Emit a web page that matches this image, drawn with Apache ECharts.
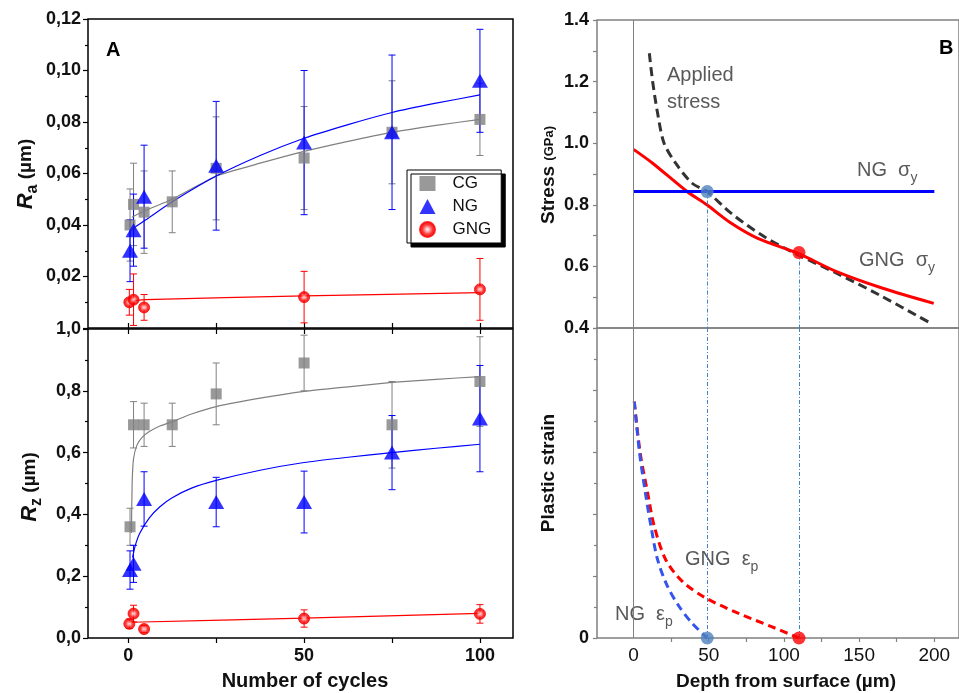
<!DOCTYPE html>
<html>
<head>
<meta charset="utf-8">
<script src="https://cdn.jsdelivr.net/npm/echarts@6/dist/echarts.min.js"></script>
<style>html,body{margin:0;padding:0;background:#fff}#main{width:959px;height:693px}</style>
</head>
<body>
<div id="main"></div>
<script>
// panel A: [cycles, value, error]
var raCG  = [[0.5,0.040,0.014],[1.5,0.048,0.016],[4.5,0.045,0.016],[12.5,0.049,0.012],[25,0.062,0.020],[50,0.066,0.020],[75,0.076,0.020],[100,0.081,0.014]];
var raNG  = [[0.5,0.030,0.012],[1.5,0.038,0.014],[4.5,0.051,0.020],[25,0.063,0.025],[50,0.072,0.028],[75,0.076,0.030],[100,0.096,0.020]];
var raGNG = [[0.3,0.010,0.005],[1.5,0.011,0.010],[4.5,0.008,0.005],[50,0.012,0.010],[100,0.015,0.012]];
var rzCG  = [[0.5,0.36,0.06],[1.5,0.69,0.075],[4.5,0.69,0.07],[12.5,0.69,0.07],[25,0.79,0.10],[50,0.89,0.09],[75,0.69,0.14],[100,0.83,0.145]];
var rzNG  = [[0.5,0.22,0.062],[1.5,0.24,0.06],[4.5,0.45,0.088],[25,0.44,0.08],[50,0.44,0.10],[75,0.60,0.12],[100,0.71,0.172]];
var rzGNG = [[0.3,0.046,0.015],[1.5,0.079,0.027],[4.5,0.029,0.012],[50,0.063,0.028],[100,0.078,0.03]];
// fitted curves
var raCGFit  = [[1,0.043],[5,0.0457],[12.5,0.050],[25,0.059],[37.5,0.064],[50,0.0686],[62.5,0.0725],[75,0.076],[87.5,0.0787],[100,0.081]];
var raNGFit  = [[1.5,0.0388],[5,0.042],[12.5,0.049],[25,0.059],[37.5,0.067],[50,0.0737],[62.5,0.079],[75,0.0837],[87.5,0.0873],[100,0.0905]];
var raGNGFit = [[1.5,0.0105],[5,0.011],[50,0.0125],[100,0.0137]];
var rzCGFit  = [[0.9,0.34],[1.1,0.50],[1.5,0.58],[2.5,0.625],[4,0.65],[6,0.668],[9,0.686],[12.5,0.70],[18,0.725],[25,0.749],[37.5,0.776],[50,0.798],[62.5,0.813],[75,0.827],[87.5,0.837],[100,0.846]];
var rzNGFit  = [[1.2,0.26],[2,0.30],[3.3,0.34],[6,0.389],[9,0.425],[12.5,0.454],[18,0.485],[25,0.51],[37.5,0.543],[50,0.568],[62.5,0.585],[75,0.60],[87.5,0.614],[100,0.627]];
var rzGNGFit = [[1,0.051],[50,0.064],[100,0.080]];
// panel B: [depth, stress] and [depth, strain]
var appliedStress = [[10.5,1.292],[12.7,1.2],[16,1.097],[20.3,1.0],[28,0.935],[39,0.87],[49,0.842],[65,0.772],[87,0.696],[109.5,0.637],[135,0.578],[163.5,0.507],[198.5,0.413]];
var gngYield = [[0,0.98],[12.7,0.935],[35.6,0.843],[48.7,0.80],[65,0.74],[82.6,0.691],[109.5,0.642],[135,0.583],[165.7,0.529],[199.6,0.48]];
var ngYield = [[0,0.843],[200,0.843]];
var gngStrain = [[0.5,0.305],[4.4,0.239],[9.4,0.187],[13.8,0.144],[21.4,0.101],[32.4,0.073],[47.7,0.052],[69.5,0.032],[91.3,0.015],[110,0]];
var ngStrain = [[0.5,0.305],[4,0.239],[7.9,0.187],[11.6,0.144],[16,0.101],[22.5,0.067],[30.2,0.041],[39,0.019],[49,0]];
var crossDepth = [49, 110];
var crossStress = [0.843, 0.645];

var F = 'Liberation Sans, Arial, sans-serif';
var GRAY = '#808080', BLUE = '#0000ff', RED = '#ff0000';
var ballColor = {type:'radial', x:0.5, y:0.5, r:0.5, colorStops:[{offset:0,color:'#ffffff'},{offset:0.35,color:'#ff6b6b'},{offset:0.6,color:'#ff0000'},{offset:1,color:'#e00000'}]};

var errRender = function(color){
    return function(params, api){
        var x = api.value(0), y = api.value(1), e = api.value(2);
        var a = api.coord([x, y + e]), b = api.coord([x, y - e]);
        var st = {stroke: color, lineWidth: 1};
        return {type:'group', children:[
            {type:'line', shape:{x1:a[0], y1:a[1], x2:b[0], y2:b[1]}, style:st},
            {type:'line', shape:{x1:a[0]-3.5, y1:a[1], x2:a[0]+3.5, y2:a[1]}, style:st},
            {type:'line', shape:{x1:b[0]-3.5, y1:b[1], x2:b[0]+3.5, y2:b[1]}, style:st}
        ]};
    };
};
var errSeries = function(data, color, gi){
    return {type:'custom', name:'err', xAxisIndex: gi===0?0:1, yAxisIndex: gi, renderItem: errRender(color), data: data, z: 2, silent:true};
};
var fitSeries = function(data, color, gi){
    return {type:'line', name:'fit', xAxisIndex: gi===0?0:1, yAxisIndex: gi, data: data, showSymbol:false, smooth:0.2,
        lineStyle:{color: color, width: 1.2}, z: 3, silent:true};
};
var markSeries = function(name, data, gi){
    var s = {type:'scatter', name:name, xAxisIndex: gi===0?0:1, yAxisIndex: gi, data: data.map(function(d){return [d[0], d[1]];}), z: 4};
    if (name === 'CG') { s.symbol = 'rect'; s.symbolSize = 11; s.itemStyle = {color: GRAY}; }
    if (name === 'NG') { s.symbol = 'triangle'; s.symbolSize = [16,14]; s.itemStyle = {color: BLUE}; }
    if (name === 'GNG') { s.symbol = 'circle'; s.symbolSize = 11; s.itemStyle = {color: ballColor, borderColor: RED, borderWidth: 1}; }
    return s;
};

var tickA = [0,25,50,75,100];
var noLine = {show:false, onZero:false};
var leftY = function(gi, max, interval, fmt){
    return {type:'value', gridIndex: gi, min: 0, max: max, interval: interval,
        axisLine: noLine, splitLine:{show:false},
        axisTick:{show:true, length:5, lineStyle:{color:'#000', width:1.2}},
        minorTick:{show:true, splitNumber:2, length:3, lineStyle:{color:'#000', width:1.2}},
        axisLabel:{fontFamily:F, fontWeight:'bold', fontSize:18, color:'#111', margin:7, formatter: fmt}};
};

var option = {
    animation: false,
    backgroundColor: '#fff',
    grid: [
        {left:88, top:19, width:425, height:309, show:true, borderColor:'#000', borderWidth:1.5},
        {left:88, top:329, width:425, height:309, show:true, borderColor:'#000', borderWidth:1.5},
        {left:597, top:20, width:367, height:308, show:true, borderColor:GRAY, borderWidth:1.5},
        {left:597, top:328, width:367, height:310, show:true, borderColor:GRAY, borderWidth:1.5}
    ],
    legend: {
        data: ['CG','NG','GNG'], orient:'vertical', left: 407, top: 170,
        backgroundColor:'#fff', borderColor:'#000', borderWidth:1, borderRadius:0,
        shadowColor:'#000', shadowOffsetX:4, shadowOffsetY:4, shadowBlur:0,
        padding:[5,10,5,12], itemGap:6, itemWidth:16, itemHeight:15,
        textStyle:{fontFamily:F, fontSize:17, color:'#111', padding:[0,0,0,12]},
        selectedMode:false
    },
    xAxis: [
        {type:'value', gridIndex:0, min:-11.45, max:109.4, axisLine:noLine, splitLine:{show:false},
            axisTick:{show:true, inside:true, length:5, customValues:tickA, lineStyle:{color:'#000', width:1.2}}, axisLabel:{show:false}},
        {type:'value', gridIndex:1, min:-11.45, max:109.4, axisLine:noLine, splitLine:{show:false},
            axisTick:{show:true, length:5, customValues:tickA, lineStyle:{color:'#000', width:1.2}},
            axisLabel:{customValues:[0,50,100], fontFamily:F, fontWeight:'bold', fontSize:18, color:'#111', margin:9}},
        {type:'value', gridIndex:1, position:'top', min:-11.45, max:109.4, axisLine:noLine, splitLine:{show:false},
            axisTick:{show:true, inside:true, length:5, customValues:tickA, lineStyle:{color:'#000', width:1.2}}, axisLabel:{show:false}},
        {type:'value', gridIndex:2, min:-24.3, max:216.4, axisLine:noLine, splitLine:{show:false}, axisTick:{show:false}, axisLabel:{show:false}},
        {type:'value', gridIndex:3, min:-24.3, max:216.4, axisLine:noLine, splitLine:{show:false},
            axisTick:{show:true, length:4, customValues:[25,50,75,100,125,150,175,200], lineStyle:{color:GRAY, width:1.2}},
            axisLabel:{customValues:[0,50,100,150,200], fontFamily:F, fontSize:19, color:'#111', margin:8}}
    ],
    yAxis: [
        leftY(0, 0.12, 0.02, function(v){ return v === 0 ? '' : v.toFixed(2).replace('.', ','); }),
        leftY(1, 1.0, 0.2, function(v){ return v.toFixed(1).replace('.', ','); }),
        {type:'value', gridIndex:2, min:0.4, max:1.4, interval:0.2, axisLine:noLine, splitLine:{show:false},
            axisTick:{show:true, length:4, lineStyle:{color:GRAY, width:1.2}},
            minorTick:{show:true, splitNumber:2, length:4, lineStyle:{color:GRAY, width:1.2}},
            axisLabel:{fontFamily:F, fontWeight:'bold', fontSize:18, color:'#111', margin:8, formatter:function(v){return v.toFixed(1);}}},
        {type:'value', gridIndex:3, min:0, max:0.4, interval:0.08, axisLine:noLine, splitLine:{show:false},
            axisTick:{show:true, length:4, lineStyle:{color:GRAY, width:1.2}},
            minorTick:{show:true, splitNumber:2, length:3, lineStyle:{color:GRAY, width:1.2}},
            axisLabel:{fontFamily:F, fontWeight:'bold', fontSize:18, color:'#111', margin:8, formatter:function(v){return v === 0 ? '0' : '';}}}
    ],
    series: [
        errSeries(raCG, GRAY, 0), errSeries(raNG, BLUE, 0), errSeries(raGNG, RED, 0),
        errSeries(rzCG, GRAY, 1), errSeries(rzNG, BLUE, 1), errSeries(rzGNG, RED, 1),
        fitSeries(raCGFit, GRAY, 0), fitSeries(raNGFit, BLUE, 0), fitSeries(raGNGFit, RED, 0),
        fitSeries(rzCGFit, GRAY, 1), fitSeries(rzNGFit, BLUE, 1), fitSeries(rzGNGFit, RED, 1),
        markSeries('CG', raCG, 0), markSeries('NG', raNG, 0), markSeries('GNG', raGNG, 0),
        markSeries('CG', rzCG, 1), markSeries('NG', rzNG, 1), markSeries('GNG', rzGNG, 1),
        {type:'line', name:'applied', xAxisIndex:3, yAxisIndex:2, data:appliedStress, smooth:0.3, showSymbol:false,
            lineStyle:{color:'#333', width:3, type:[9,5]},
            markLine:{silent:true, symbol:'none', label:{show:false}, lineStyle:{color:GRAY, width:1, type:'solid'}, data:[{xAxis:0}]}},
        {type:'line', name:'gngY', xAxisIndex:3, yAxisIndex:2, data:gngYield, smooth:0.3, showSymbol:false,
            lineStyle:{color:RED, width:3},
            markLine:{silent:true, symbol:'none', label:{show:false}, lineStyle:{color:'#3d85c6', width:1, type:[4,2,1,2]},
                data:[[{coord:[crossDepth[0], crossStress[0]]},{coord:[crossDepth[0], 0.4]}],
                      [{coord:[crossDepth[1], crossStress[1]]},{coord:[crossDepth[1], 0.4]}]]}},
        {type:'line', name:'ngY', xAxisIndex:3, yAxisIndex:2, data:ngYield, showSymbol:false, lineStyle:{color:BLUE, width:3}},
        {type:'scatter', name:'dotsTop', xAxisIndex:3, yAxisIndex:2, symbolSize:13, z:5,
            data:[{value:[crossDepth[0], crossStress[0]], itemStyle:{color:'#4f81bd'}}, {value:[crossDepth[1], crossStress[1]], itemStyle:{color:RED}}]},
        {type:'line', name:'gngE', xAxisIndex:4, yAxisIndex:3, data:gngStrain, smooth:0.3, showSymbol:false,
            lineStyle:{color:RED, width:3, type:[8,5]},
            markLine:{silent:true, symbol:'none', label:{show:false}, lineStyle:{color:GRAY, width:1, type:'solid'}, data:[{xAxis:0}]}},
        {type:'line', name:'ngE', xAxisIndex:4, yAxisIndex:3, data:ngStrain, smooth:0.3, showSymbol:false,
            lineStyle:{color:'#3355ee', width:3, type:[8,5]},
            markLine:{silent:true, symbol:'none', label:{show:false}, lineStyle:{color:'#3d85c6', width:1, type:[4,2,1,2]},
                data:[{xAxis:crossDepth[0]}, {xAxis:crossDepth[1]}]}},
        {type:'scatter', name:'dotsBot', xAxisIndex:4, yAxisIndex:3, symbolSize:13, z:5,
            data:[{value:[crossDepth[0], 0], itemStyle:{color:'#4f81bd'}}, {value:[crossDepth[1], 0], itemStyle:{color:RED}}]}
    ],
    graphic: [
        {type:'text', left:106, top:40, style:{text:'A', font:'bold 20px ' + F, fill:'#000'}},
        {type:'text', left:939, top:38, style:{text:'B', font:'bold 20px ' + F, fill:'#000'}},
        {type:'text', x:26, y:174, rotation:Math.PI/2, style:{text:'{r|R}{s|a}{u| (µm)}', align:'center', verticalAlign:'middle',
            rich:{r:{fontFamily:F, fontSize:22, fontWeight:'bold', fontStyle:'italic', lineHeight:30, fill:'#111'},
                  s:{fontFamily:F, fontSize:16, fontWeight:'bold', lineHeight:16, verticalAlign:'bottom', fill:'#111'},
                  u:{fontFamily:F, fontSize:19, fontWeight:'bold', lineHeight:30, fill:'#111'}}}},
        {type:'text', x:30, y:487, rotation:Math.PI/2, style:{text:'{r|R}{s|z}{u| (µm)}', align:'center', verticalAlign:'middle',
            rich:{r:{fontFamily:F, fontSize:22, fontWeight:'bold', fontStyle:'italic', lineHeight:30, fill:'#111'},
                  s:{fontFamily:F, fontSize:16, fontWeight:'bold', lineHeight:16, verticalAlign:'bottom', fill:'#111'},
                  u:{fontFamily:F, fontSize:19, fontWeight:'bold', lineHeight:30, fill:'#111'}}}},
        {type:'text', x:305, y:681, style:{text:'Number of cycles', font:'bold 20px ' + F, fill:'#111', align:'center', verticalAlign:'middle'}},
        {type:'text', x:549, y:175, rotation:Math.PI/2, style:{text:'{a|Stress }{b|(GPa)}', align:'center', verticalAlign:'middle',
            rich:{a:{fontFamily:F, fontSize:19, fontWeight:'bold', fill:'#111'}, b:{fontFamily:F, fontSize:13, fontWeight:'bold', fill:'#111'}}}},
        {type:'text', x:549, y:473, rotation:Math.PI/2, style:{text:'Plastic strain', font:'bold 19px ' + F, fill:'#111', align:'center', verticalAlign:'middle'}},
        {type:'text', x:786, y:682, style:{text:'Depth from surface (µm)', font:'bold 19px ' + F, fill:'#111', align:'center', verticalAlign:'middle'}},
        {type:'text', left:667, top:62, style:{text:'Applied\nstress', font:'20px ' + F, fill:'#595959', lineHeight:27}},
        {type:'text', left:857, top:160, style:{text:'{a|NG  σ}{b|y}',
            rich:{a:{fontFamily:F, fontSize:20, lineHeight:30, fill:'#595959'}, b:{fontFamily:F, fontSize:14, lineHeight:14, verticalAlign:'bottom', fill:'#595959'}}}},
        {type:'text', left:859, top:250, style:{text:'{a|GNG  σ}{b|y}',
            rich:{a:{fontFamily:F, fontSize:20, lineHeight:30, fill:'#595959'}, b:{fontFamily:F, fontSize:14, lineHeight:14, verticalAlign:'bottom', fill:'#595959'}}}},
        {type:'text', left:685, top:549, style:{text:'{a|GNG  ε}{b|p}',
            rich:{a:{fontFamily:F, fontSize:20, lineHeight:30, fill:'#595959'}, b:{fontFamily:F, fontSize:14, lineHeight:14, verticalAlign:'bottom', fill:'#595959'}}}},
        {type:'text', left:615, top:604, style:{text:'{a|NG  ε}{b|p}',
            rich:{a:{fontFamily:F, fontSize:20, lineHeight:30, fill:'#595959'}, b:{fontFamily:F, fontSize:14, lineHeight:14, verticalAlign:'bottom', fill:'#595959'}}}}
    ]
};

var chart = echarts.init(document.getElementById('main'));
chart.setOption(option);
</script>
</body>
</html>
